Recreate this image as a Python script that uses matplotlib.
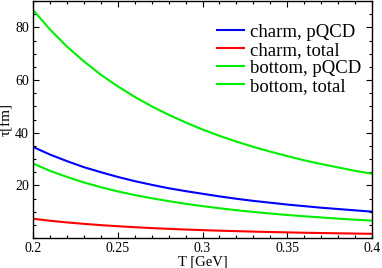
import matplotlib
matplotlib.use("Agg")
import matplotlib.pyplot as plt
from matplotlib.ticker import MultipleLocator, FixedLocator, FuncFormatter

T = [0.20, 0.21, 0.22, 0.23, 0.24, 0.25, 0.26, 0.27, 0.28, 0.29, 0.30,
     0.31, 0.32, 0.33, 0.34, 0.35, 0.36, 0.37, 0.38, 0.39, 0.40]
charm_pqcd = [34.6, 31.7, 29.2, 26.9, 25.0, 23.2, 21.6, 20.2, 18.9, 17.8, 16.8,
              15.8, 14.9, 14.1, 13.4, 12.7, 12.1, 11.5, 11.0, 10.5, 10.0]
charm_total = [7.30, 6.56, 5.92, 5.37, 4.89, 4.47, 4.10, 3.77, 3.48, 3.22, 2.99,
               2.78, 2.60, 2.43, 2.27, 2.13, 2.00, 1.89, 1.78, 1.68, 1.59]
bottom_pqcd = [28.3, 25.5, 23.2, 21.1, 19.3, 17.7, 16.3, 15.1, 14.0, 13.0, 12.1,
               11.3, 10.55, 9.9, 9.3, 8.75, 8.25, 7.8, 7.35, 6.95, 6.6]
bottom_total = [86.6, 79.2, 72.7, 67.1, 62.0, 57.6, 53.6, 50.0, 46.8, 43.9, 41.2,
                38.8, 36.6, 34.6, 32.8, 31.1, 29.5, 28.1, 26.8, 25.5, 24.4]

labels = ["charm, pQCD", "charm, total", "bottom, pQCD", "bottom, total"]
colors = ["#0000ff", "#ff0000", "#00ee00", "#00ee00"]

plt.rcParams['font.family'] = ['Liberation Serif', 'DejaVu Serif']

fig = plt.figure(figsize=(3.82, 2.68), dpi=100)
ax = fig.add_axes([33/382, 30/268, 339/382, 237/268])

for y, lab, c in zip([charm_pqcd, charm_total, bottom_pqcd, bottom_total], labels, colors):
    ax.plot(T, y, color=c, lw=1.5, label=lab)

ax.set_xlim(0.2, 0.4)
ax.set_ylim(0, 90)
ax.xaxis.set_major_locator(MultipleLocator(0.05))
ax.xaxis.set_minor_locator(MultipleLocator(0.01))
ax.yaxis.set_major_locator(FixedLocator([20, 40, 60, 80]))
ax.yaxis.set_minor_locator(MultipleLocator(5))
ax.xaxis.set_major_formatter(FuncFormatter(lambda v, p: "%g" % round(v, 3)))
ax.tick_params(which='both', direction='in', top=True, right=True, labelsize=10, width=0.8)
ax.tick_params(which='major', length=4.5, pad=3)
ax.tick_params(which='minor', length=2.2)
for s in ax.spines.values():
    s.set_linewidth(1.0)

ax.set_xlabel("T [GeV]", fontsize=10.5, labelpad=0)
ax.set_ylabel("τ[fm]", fontsize=11, labelpad=1)

ax.legend(loc='upper left', bbox_to_anchor=(0.543, 0.905), frameon=False,
          fontsize=13.5, borderpad=0, borderaxespad=0, handlelength=1.44,
          handletextpad=0.32, labelspacing=0.05)

fig.savefig("out.png", dpi=100)
